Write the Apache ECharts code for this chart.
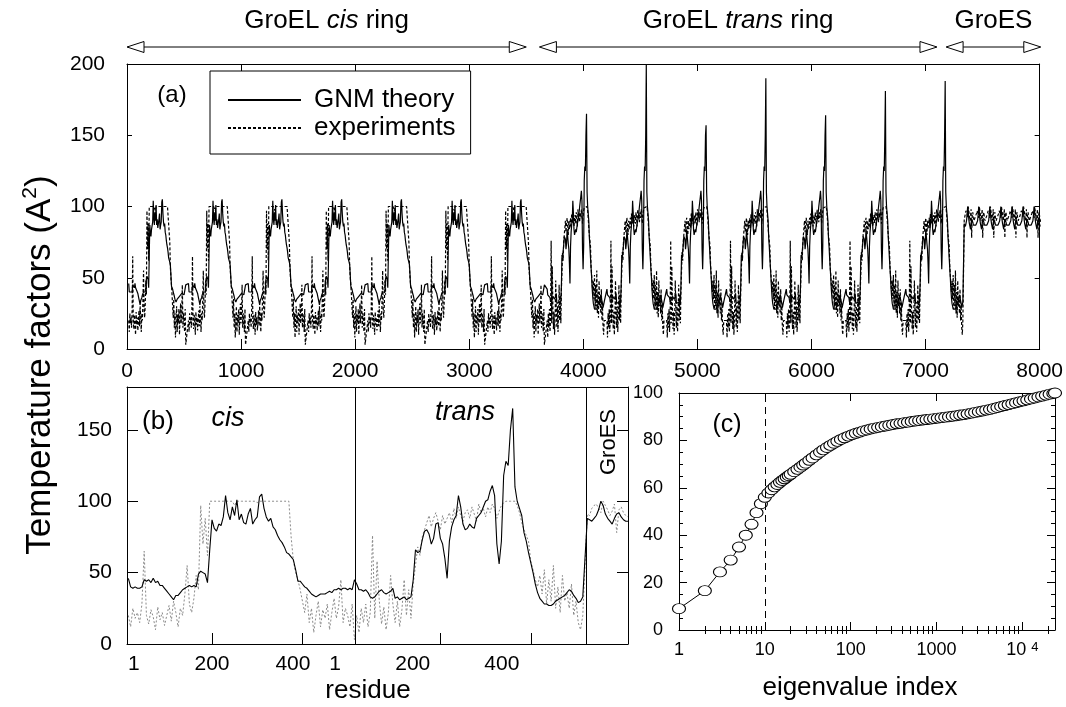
<!DOCTYPE html>
<html>
<head>
<meta charset="utf-8">
<script src="https://cdn.jsdelivr.net/npm/echarts@6/dist/echarts.min.js"></script>
<style>
  html, body { margin: 0; padding: 0; background: #fff; }
  #chart { width: 1066px; height: 707px; }
</style>
</head>
<body>
<div id="chart"></div>
<script>
const FONT = '"Liberation Sans", Arial, Helvetica, sans-serif';

// ---- Chain layout of the GroEL-GroES complex ----
const CHAIN_LEN = 524;       // residues per GroEL subunit
const GROES_LEN = 97;        // residues per GroES subunit
const N_SUB = 7;             // subunits per ring
const PROFILE_START = 15;    // first sampled residue of a GroEL profile
const PROFILE_STEP = 5;      // residue step of the sampled profiles
const GROES_START = 3;       // first sampled residue of a GroES profile

// ---- Per-residue temperature factors of one cis subunit (residues 15..515) ----
const cisTheory = [
  46, 40, 39, 40, 39, 39, 40, 45, 44, 45,
  43, 46, 43, 44, 41, 41, 39, 37, 35, 33,
  31, 34, 34, 36, 38, 39, 40, 41, 40, 41,
  40, 49, 51, 50, 49, 43, 66, 87, 81, 79,
  84, 83, 89, 104, 92, 87, 96, 90, 101, 87,
  91, 85, 84, 91, 95, 84, 87, 89, 103, 105,
  95, 89, 86, 88, 82, 80, 76, 73, 71, 68,
  64, 63, 61, 59, 52, 44, 44, 42, 40, 39,
  37, 35, 34, 33, 34, 35, 35, 35, 36, 37,
  36, 38, 38, 39, 38, 39, 39, 38, 39, 38,
  45
];
const cisExp = [
  20, 12, 25, 18, 22, 15, 28, 65, 20, 14,
  24, 19, 10, 26, 17, 22, 13, 20, 27, 16,
  30, 22, 12, 25, 20, 35, 55, 28, 22, 32,
  48, 38, 97, 70, 88, 62, 100, 100, 100, 100,
  100, 100, 100, 100, 100, 100, 100, 97, 100, 100,
  100, 100, 100, 100, 100, 100, 100, 99, 100, 100,
  100, 100, 100, 100, 100, 100, 100, 100, 100, 100,
  100, 100, 75, 58, 50, 45, 38, 30, 22, 35,
  15, 25, 8, 20, 30, 12, 24, 18, 28, 10,
  22, 32, 18, 26, 45, 15, 25, 20, 12, 28,
  3
];

// ---- One trans subunit (residues 15..515) ----
const transTheory = [
  42, 38, 38, 37, 38, 36, 33, 32, 33, 35,
  37, 38, 36, 35, 36, 37, 39, 32, 33, 31,
  32, 33, 31, 32, 33, 45, 66, 64, 65, 73,
  79, 80, 77, 70, 74, 84, 85, 74, 70, 60,
  46, 72, 82, 87, 90, 104, 96, 84, 80, 81,
  84, 82, 81, 88, 90, 92, 96, 100, 101, 107,
  111, 104, 70, 56, 72, 118, 128, 125, 150, 165,
  110, 100, 95, 90, 78, 72, 64, 57, 50, 42,
  36, 32, 30, 28, 28, 27, 27, 28, 30, 31,
  32, 33, 34, 36, 38, 37, 34, 32, 29, 30,
  33
];
const transExp = [
  20, 8, 25, 15, 28, 12, 22, 76, 18, 58,
  30, 14, 26, 10, 22, 48, 28, 15, 30, 12,
  24, 45, 20, 38, 18, 42, 55, 68, 62, 75,
  80, 85, 90, 82, 88, 92, 86, 80, 90, 84,
  88, 92, 85, 95, 88, 96, 90, 86, 92, 94,
  88, 96, 91, 86, 98, 92, 95, 89, 96, 92,
  98, 95, 88, 93, 97, 99, 100, 100, 100, 100,
  100, 97, 92, 85, 80, 76, 72, 58, 52, 45,
  40, 48, 35, 52, 28, 45, 30, 55, 25, 40,
  22, 48, 30, 36, 25, 42, 20, 30, 15, 10,
  20
];
// apical-loop maximum of each trans subunit
const transPeakResidue = 360;
const transPeaks = [165, 200, 157, 190, 164, 181, 188];

// ---- One GroES subunit (residues 3..93) ----
const groesTheory = [88, 87, 86, 88, 90, 94, 100, 97, 91, 88, 86, 84, 88, 91, 92, 89, 87, 86, 86];
const groesExp    = [91, 90, 95, 97, 98, 95, 92, 100, 97, 94, 90, 93, 98, 78, 94, 96, 92, 90, 89];

// ---- Cumulative contribution of GNM modes (panel c) ----
const eigIndex = [
  1, 2, 3, 4, 5, 6, 7, 8, 9, 10, 11, 12, 13, 14, 15, 16, 17, 18, 19, 20,
  22, 24, 26, 28, 30, 33, 36, 40, 44, 48, 53, 58, 64, 70, 77, 85, 94,
  104, 115, 127, 140, 155, 171, 189, 209, 231, 255, 282, 312, 345, 381, 421, 465, 514, 568, 628, 694, 767, 848, 937,
  1036, 1145, 1265, 1398, 1545, 1708, 1887, 2086, 2305, 2548, 2816, 3112, 3439, 3801, 4201, 4643, 5131, 5671, 6267, 6926, 7654, 8459, 9349,
  10332, 11419, 12620, 13948, 15415, 17036, 18828, 20808, 22997, 24039
];
const eigCumulative = [
  9, 16.6, 24.5, 29.5, 35, 40, 44.6, 49.5, 53.3, 56, 57.8, 59.2, 60.4, 61.4, 62.3, 63.1, 63.8, 64.5, 65.1, 65.7,
  66.8, 67.8, 68.7, 69.6, 70.4, 71.6, 72.6, 73.9, 75, 76, 77, 77.9, 78.8, 79.6, 80.4, 81.1, 81.8,
  82.4, 83, 83.5, 84, 84.4, 84.8, 85.2, 85.5, 85.8, 86.1, 86.4, 86.7, 87, 87.2, 87.5, 87.7, 88, 88.2, 88.4, 88.6, 88.8, 89, 89.2,
  89.4, 89.6, 89.8, 90, 90.2, 90.4, 90.7, 90.9, 91.2, 91.5, 91.8, 92.1, 92.4, 92.8, 93.1, 93.5, 93.9, 94.3, 94.7, 95.1, 95.5, 95.9, 96.3,
  96.7, 97.1, 97.5, 97.9, 98.3, 98.7, 99.1, 99.5, 99.8, 100
];
const slowModeCutoff = 10;

// ---- Axis ticks and labels ----
const bYTicks = [0, 50, 100, 150];
const bChainTicks = [200, 400];
const bLabelText = ['1', '200', '400', '1', '200', '400'];
const bLabelPos = [27, 200, 379, 472, 644, 841];
const cXTicks = [1, 10, 100, 1000, 10000];

// ring annotations above panel (a), in residue numbering
const ringSpans = [
  { text: 'GroEL {i|cis} ring', from: 0, to: 3500 },
  { text: 'GroEL {i|trans} ring', from: 3615, to: 7100 },
  { text: 'GroES', from: 7180, to: 8010 }
];

// ---- Build series data ----
function chainPoints(values, start, offset) {
  return values.map((v, i) => [offset + start + PROFILE_STEP * i, v]);
}

const aTheory = [], aExp = [];
for (let k = 0; k < N_SUB; k++) {
  const off = k * CHAIN_LEN;
  aTheory.push(...chainPoints(cisTheory, PROFILE_START, off));
  aExp.push(...chainPoints(cisExp, PROFILE_START, off));
}
const peakIdx = (transPeakResidue - PROFILE_START) / PROFILE_STEP;
for (let k = 0; k < N_SUB; k++) {
  const off = (N_SUB + k) * CHAIN_LEN;
  const th = transTheory.slice();
  th[peakIdx] = transPeaks[k];
  aTheory.push(...chainPoints(th, PROFILE_START, off));
  aExp.push(...chainPoints(transExp, PROFILE_START, off));
}
for (let k = 0; k < N_SUB; k++) {
  const off = 2 * N_SUB * CHAIN_LEN + k * GROES_LEN;
  aTheory.push(...chainPoints(groesTheory, GROES_START, off));
  aExp.push(...chainPoints(groesExp, GROES_START, off));
}

// panel (b): one cis subunit, one trans subunit, one GroES subunit side by side
const B_MIN = 12, B_MAX = 1120;
const B_TRANS_OFFSET = 505;
const B_GROES_OFFSET = 1027;
const bTheory = [
  ...chainPoints(cisTheory, PROFILE_START, 0),
  ...chainPoints(transTheory, PROFILE_START, B_TRANS_OFFSET),
  ...chainPoints(groesTheory, GROES_START, B_GROES_OFFSET)
];
const bExp = [
  ...chainPoints(cisExp, PROFILE_START, 0),
  ...chainPoints(transExp, PROFILE_START, B_TRANS_OFFSET),
  ...chainPoints(groesExp, GROES_START, B_GROES_OFFSET)
];
const bTickPos = [...bChainTicks, ...bChainTicks.map(r => r + B_TRANS_OFFSET)];
const bDividers = [B_TRANS_OFFSET + B_MIN, B_GROES_OFFSET];

const cCurve = eigIndex.map((x, i) => [x, eigCumulative[i]]);
const cMax = eigIndex[eigIndex.length - 1];
const cMinor = [];
for (let d = 1; d <= 10000; d *= 10) {
  for (let m = 2; m <= 9; m++) if (m * d < cMax) cMinor.push(m * d);
}

// ---- Shared styles ----
const black = '#000';
const lbl = (size, extra) => Object.assign({ color: black, fontFamily: FONT, fontSize: size }, extra || {});
const line = { lineStyle: { color: black, width: 1 } };
const noSplit = { show: false };

const chart = echarts.init(document.getElementById('chart'), null, { renderer: 'canvas' });

const option = {
  animation: false,
  backgroundColor: '#fff',
  textStyle: { fontFamily: FONT, color: black },
  grid: [
    { left: 127, top: 64, width: 916, height: 285 },
    { left: 127, top: 387, width: 501, height: 257 },
    { left: 679, top: 393, width: 376, height: 237 }
  ],
  legend: {
    data: ['GNM theory', 'experiments'],
    orient: 'vertical',
    left: 210, top: 71,
    itemWidth: 73, itemHeight: 28, itemGap: 0,
    padding: [15, 15, 12, 17],
    borderColor: black, borderWidth: 1,
    selectedMode: false,
    itemStyle: { opacity: 0 },
    textStyle: lbl(26, { lineHeight: 28, padding: [0, 0, 0, 8] })
  },
  xAxis: [
    // (a) bottom
    { gridIndex: 0, type: 'value', position: 'bottom', min: 0, max: 8000, interval: 1000,
      axisLine: { onZero: false, ...line }, axisTick: { inside: true, length: 10, ...line },
      axisLabel: lbl(21, { margin: 12, formatter: v => String(v) }), splitLine: noSplit },
    // (a) top
    { gridIndex: 0, type: 'value', position: 'top', min: 0, max: 8000, interval: 1000,
      axisLine: { onZero: false, ...line }, axisTick: { inside: true, length: 7, ...line },
      axisLabel: { show: false }, splitLine: noSplit },
    // (b) bottom
    { gridIndex: 1, type: 'value', position: 'bottom', min: B_MIN, max: B_MAX,
      axisLine: { onZero: false, ...line },
      axisTick: { inside: true, length: 11, customValues: bTickPos, ...line },
      axisLabel: lbl(21, { margin: 10, customValues: bLabelPos,
        formatter: v => bLabelText[bLabelPos.findIndex(p => Math.abs(p - v) < 0.01)] || '' }),
      name: 'residue', nameLocation: 'middle', nameGap: 26,
      nameTextStyle: lbl(26, { lineHeight: 30, padding: [0, 19, 0, 0] }),
      splitLine: noSplit },
    // (b) top
    { gridIndex: 1, type: 'value', position: 'top', min: B_MIN, max: B_MAX,
      axisLine: { onZero: false, ...line }, axisTick: { show: false }, axisLabel: { show: false }, splitLine: noSplit },
    // (c) bottom, decades
    { gridIndex: 2, type: 'log', logBase: 10, position: 'bottom', min: 1, max: cMax,
      axisLine: { onZero: false, ...line },
      axisTick: { inside: true, length: 8, customValues: cXTicks, ...line },
      axisLabel: lbl(18, { margin: 11, customValues: cXTicks,
        formatter: v => (Math.abs(v - 10000) < 1 ? '{b|10}{s|4}' : '{b|' + v + '}'),
        rich: { b: lbl(18), s: lbl(13, { verticalAlign: 'top', padding: [0, 0, 0, 5] }) } }),
      name: 'eigenvalue index', nameLocation: 'middle', nameGap: 43,
      nameTextStyle: lbl(26, { lineHeight: 30, padding: [0, 14, 0, 0] }),
      splitLine: noSplit },
    // (c) bottom, minor
    { gridIndex: 2, type: 'log', logBase: 10, position: 'bottom', min: 1, max: cMax,
      axisLine: { show: false }, axisTick: { inside: true, length: 4, customValues: cMinor, ...line },
      axisLabel: { show: false }, splitLine: noSplit },
    // (c) top, decades
    { gridIndex: 2, type: 'log', logBase: 10, position: 'top', min: 1, max: cMax,
      axisLine: { onZero: false, ...line }, axisTick: { inside: true, length: 8, customValues: cXTicks, ...line },
      axisLabel: { show: false }, splitLine: noSplit },
    // (c) top, minor
    { gridIndex: 2, type: 'log', logBase: 10, position: 'top', min: 1, max: cMax,
      axisLine: { show: false }, axisTick: { inside: true, length: 4, customValues: cMinor, ...line },
      axisLabel: { show: false }, splitLine: noSplit }
  ],
  yAxis: [
    { gridIndex: 0, type: 'value', position: 'left', min: 0, max: 200, interval: 50,
      axisLine: { show: true, onZero: false, ...line }, axisTick: { show: true, inside: true, length: 5, ...line },
      axisLabel: lbl(21, { margin: 22 }), splitLine: noSplit },
    { gridIndex: 0, type: 'value', position: 'right', min: 0, max: 200, interval: 50,
      axisLine: { show: true, onZero: false, ...line }, axisTick: { show: true, inside: true, length: 5, ...line },
      axisLabel: { show: false }, splitLine: noSplit },
    { gridIndex: 1, type: 'value', position: 'left', min: 0, max: 180,
      axisLine: { show: true, onZero: false, ...line },
      axisTick: { show: true, inside: true, length: 11, customValues: bYTicks, ...line },
      axisLabel: lbl(21, { margin: 15, customValues: bYTicks }), splitLine: noSplit },
    { gridIndex: 1, type: 'value', position: 'right', min: 0, max: 180,
      axisLine: { show: true, onZero: false, ...line },
      axisTick: { show: true, inside: true, length: 11, customValues: bYTicks, ...line },
      axisLabel: { show: false }, splitLine: noSplit },
    { gridIndex: 2, type: 'value', position: 'left', min: 0, max: 100, interval: 20,
      axisLine: { show: true, onZero: false, ...line }, axisTick: { show: true, inside: true, length: 8, ...line },
      minorTick: { show: true, splitNumber: 4, length: 4, ...line },
      axisLabel: lbl(18, { margin: 16 }), splitLine: noSplit },
    { gridIndex: 2, type: 'value', position: 'right', min: 0, max: 100, interval: 20,
      axisLine: { show: true, onZero: false, ...line }, axisTick: { show: true, inside: true, length: 8, ...line },
      minorTick: { show: true, splitNumber: 4, length: 4, ...line },
      axisLabel: { show: false }, splitLine: noSplit }
  ],
  series: [
    { type: 'line', name: 'GNM theory', xAxisIndex: 0, yAxisIndex: 0, data: aTheory,
      symbol: 'none', itemStyle: { color: black }, lineStyle: { color: black, width: 1.2 }, z: 3 },
    { type: 'line', name: 'experiments', xAxisIndex: 0, yAxisIndex: 0, data: aExp,
      symbol: 'none', itemStyle: { color: black }, lineStyle: { color: black, width: 1.2, type: [3, 2] }, z: 2 },
    { type: 'line', name: 'exp (b)', xAxisIndex: 2, yAxisIndex: 2, data: bExp,
      symbol: 'none', lineStyle: { color: '#8a8a8a', width: 1, type: [2, 2] }, z: 2 },
    { type: 'line', name: 'theory (b)', xAxisIndex: 2, yAxisIndex: 2, data: bTheory,
      symbol: 'none', lineStyle: { color: black, width: 1.1 }, z: 3,
      markLine: { silent: true, symbol: ['none', 'none'], label: { show: false },
        lineStyle: { color: black, width: 1, type: 'solid' },
        data: bDividers.map(x => ({ xAxis: x })) } },
    { type: 'line', name: 'modes', xAxisIndex: 4, yAxisIndex: 4, data: cCurve,
      symbol: 'path://M0,50 A50,50 0 1,1 100,50 A50,50 0 1,1 0,50 Z', symbolSize: [13, 10],
      showSymbol: true, showAllSymbol: true,
      itemStyle: { color: '#fff', borderColor: black, borderWidth: 1 },
      lineStyle: { color: black, width: 1 }, z: 3,
      markLine: { silent: true, symbol: ['none', 'none'], label: { show: false },
        lineStyle: { color: black, width: 1, type: [7, 5] },
        data: [{ xAxis: slowModeCutoff }] } }
  ]
};

chart.setOption(option);

// ---- Annotations: ring arrows, panel tags, axis title ----
const arrowY = 47;
function arrow(x1, x2, y) {
  const L = 17, H = 5.5;
  const head = { fill: '#fff', stroke: black, lineWidth: 1 };
  return [
    { type: 'line', shape: { x1: x1 + L, y1: y, x2: x2 - L, y2: y }, style: { stroke: black, lineWidth: 1 } },
    { type: 'polygon', shape: { points: [[x1, y], [x1 + L, y - H], [x1 + L, y + H]] }, style: head },
    { type: 'polygon', shape: { points: [[x2, y], [x2 - L, y - H], [x2 - L, y + H]] }, style: head }
  ];
}
function text(x, y, str, size, extra) {
  return Object.assign({
    type: 'text', x: x, y: y,
    style: Object.assign({ text: str, fill: black, font: size + 'px ' + FONT, align: 'center', verticalAlign: 'middle' },
      (extra && extra.style) || {})
  }, extra && extra.rotation ? { rotation: extra.rotation } : {});
}

const gfx = [];
ringSpans.forEach(s => {
  const x1 = chart.convertToPixel({ xAxisIndex: 0 }, s.from);
  const x2 = chart.convertToPixel({ xAxisIndex: 0 }, s.to);
  gfx.push(...arrow(x1, x2, arrowY));
  gfx.push(text((x1 + x2) / 2, 21, s.text, 26, {
    style: { rich: { i: { fontStyle: 'italic', fontSize: 26, fontFamily: FONT, fill: black } } }
  }));
});
gfx.push(text(172, 95, '(a)', 24));
gfx.push(text(158, 422, '(b)', 26));
gfx.push(text(228, 418, 'cis', 27, { style: { font: 'italic 27px ' + FONT } }));
gfx.push(text(465, 412, 'trans', 27, { style: { font: 'italic 27px ' + FONT } }));
gfx.push(text(609, 442, 'GroES', 22, { rotation: Math.PI / 2 }));
gfx.push(text(727, 425, '(c)', 25));
gfx.push(text(40, 365, 'Temperature factors (A{sup|2})', 35, {
  rotation: Math.PI / 2,
  style: { rich: { sup: { fontSize: 21, fontFamily: FONT, fill: black, verticalAlign: 'top', lineHeight: 40 } }, lineHeight: 40 }
}));

chart.setOption({ graphic: { elements: gfx } });
</script>
</body>
</html>
